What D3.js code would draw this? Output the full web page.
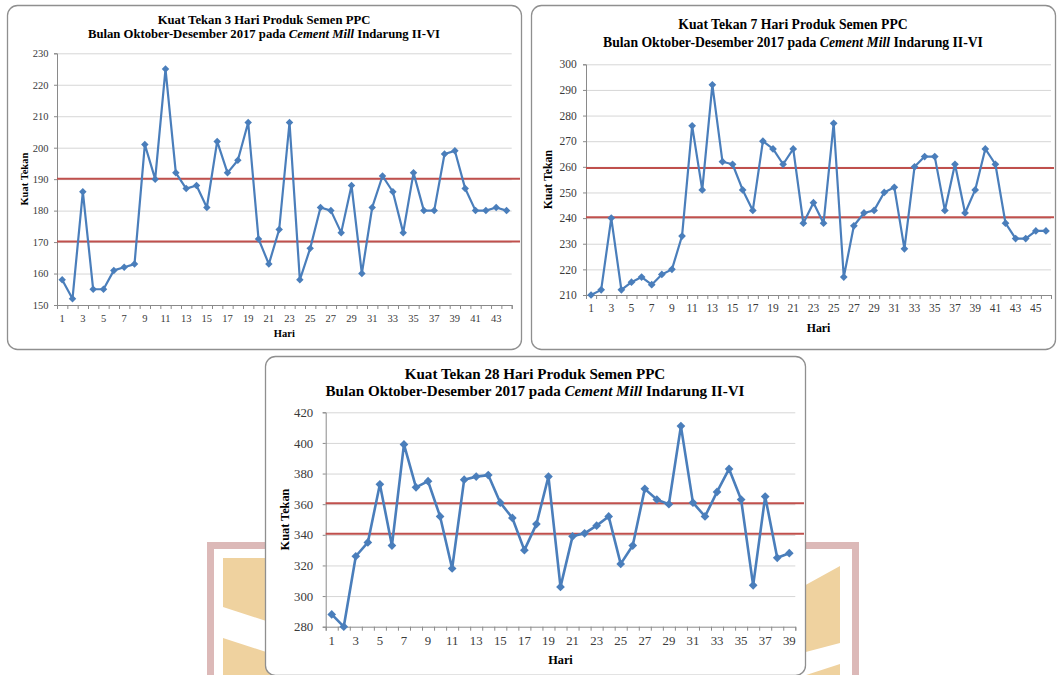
<!DOCTYPE html>
<html>
<head>
<meta charset="utf-8">
<script src="https://cdn.jsdelivr.net/npm/d3@7"></script>
<style>
  body { margin: 0; background: #fff; }
  svg { display: block; }
  text { font-family: "Liberation Serif", "Times New Roman", serif; }
</style>
</head>
<body>
<svg id="chart" width="1057" height="675"></svg>
<script>
// ---- Data: compressive strength (Kuat Tekan) per day, PPC cement, Cement Mill Indarung II-VI ----
const strength3 = [158, 152, 186, 155, 155, 161, 162, 163, 201, 190, 225, 192, 187, 188, 181, 202, 192, 196, 208, 171,
                   163, 174, 208, 158, 168, 181, 180, 173, 188, 160, 181, 191, 186, 173, 192, 180, 180, 198, 199, 187,
                   180, 180, 181, 180];
const strength7 = [210, 212, 240, 212, 215, 217, 214, 218, 220, 233, 276, 251, 292, 262, 261, 251, 243, 270, 267, 261,
                   267, 238, 246, 238, 277, 217, 237, 242, 243, 250, 252, 228, 260, 264, 264, 243, 261, 242, 251, 267,
                   261, 238, 232, 232, 235, 235];
const strength28 = [288, 280, 326, 335, 373, 333, 399, 371, 375, 352, 318, 376, 378, 379, 361, 351, 330, 347, 378, 306,
                    339, 341, 346, 352, 321, 333, 370, 363, 360, 411, 361, 352, 368, 383, 363, 307, 365, 325, 328];

// control limits (upper, lower)
const limits3 = [190.1, 170.2];
const limits7 = [259.5, 240.3];
const limits28 = [360.6, 340.7];

// y-axis tick labels
const yTicks3 = [150, 160, 170, 180, 190, 200, 210, 220, 230];
const yTicks7 = [210, 220, 230, 240, 250, 260, 270, 280, 290, 300];
const yTicks28 = [280, 300, 320, 340, 360, 380, 400, 420];

const titleLine1 = ["Kuat Tekan 3 Hari Produk Semen PPC", "Kuat Tekan 7 Hari Produk Semen PPC", "Kuat Tekan 28 Hari Produk Semen PPC"];
const titleLine2 = [["Bulan Oktober-Desember 2017 pada ", false], ["Cement Mill", true], [" Indarung II-VI", false]];
const xTitle = "Hari";
const yTitle = "Kuat Tekan";

const LINE = "#4a7ebb";
const LIMIT = "#c0504d";
const GRID = "#d6d6d6";
const AXIS = "#8a8a8a";
const TICKTXT = "#3a3a3a";

const svg = d3.select("#chart");

// ---- faint background emblem ----
const wm = svg.append("g");
const beige = "#efd29f";
wm.append("polygon").attr("points", "223,558 300,558 300,632 223,607").attr("fill", beige);
wm.append("polygon").attr("points", "223,638 300,663 300,680 223,680").attr("fill", beige);
wm.append("polygon").attr("points", "760,610 840,566 840,643 760,664").attr("fill", beige);
wm.append("polygon").attr("points", "760,690 840,664 840,690").attr("fill", beige);
wm.append("rect").attr("x", 210.5).attr("y", 545.5).attr("width", 645).attr("height", 200)
  .attr("fill", "none").attr("stroke", "#dcb9b8").attr("stroke-width", 7);

// ---- panel layouts ----
const panels = [
  { values: strength3, limits: limits3, ticks: yTicks3, title: titleLine1[0],
    box: [7, 5, 521, 349], plot: [57, 53.3, 511.7, 305],
    tFont: 12.7, t1: 24, t2: 37.5, tickFont: 10.5, yPad: 5.5, xPad: 9.5,
    axFont: 10.5, yTitleX: 24, xTitleY: 337, mark: 28, lw: 2.2 },
  { values: strength7, limits: limits7, ticks: yTicks7, title: titleLine1[1],
    box: [531, 5, 1055, 349], plot: [586, 64.3, 1051, 295],
    tFont: 13.7, t1: 29, t2: 46.5, tickFont: 11.5, yPad: 6.3, xPad: 8.5,
    axFont: 11.8, yTitleX: 548, xTitleY: 332, mark: 30, lw: 2.2 },
  { values: strength28, limits: limits28, ticks: yTicks28, title: titleLine1[2],
    box: [265, 356, 805, 675], plot: [325.7, 412.3, 795.3, 626.7],
    tFont: 15.1, t1: 378.5, t2: 395.5, tickFont: 12.8, yPad: 9.5, xPad: 9.4,
    axFont: 12.3, yTitleX: 285, xTitleY: 664, mark: 38, lw: 2.6 }
];

function drawPanel(p) {
  const g = svg.append("g");
  const [bx0, by0, bx1, by1] = p.box;
  const [px0, py0, px1, py1] = p.plot;
  const days = p.values.map((_, i) => i + 1);

  g.append("rect")
    .attr("x", bx0 + 0.5).attr("y", by0 + 0.5)
    .attr("width", bx1 - bx0).attr("height", by1 - by0)
    .attr("rx", 10).attr("ry", 10)
    .attr("fill", "#fff").attr("stroke", "#8f8f8f").attr("stroke-width", 1.3);

  const x = d3.scaleBand().domain(days).range([px0, px1]).padding(0);
  const y = d3.scaleLinear().domain([p.ticks[0], p.ticks[p.ticks.length - 1]]).range([py1, py0]);
  const edge = d3.scaleLinear().domain([0, days.length]).range([px0, px1]);

  // horizontal gridlines
  const grid = g.append("g").attr("transform", `translate(${px0},0)`)
    .call(d3.axisLeft(y).tickValues(p.ticks.slice(1)).tickSize(-(px1 - px0)).tickFormat(""));
  grid.select(".domain").remove();
  grid.selectAll("line").attr("stroke", GRID).attr("stroke-width", 1);

  // y axis
  const ya = g.append("g").attr("transform", `translate(${px0},0)`)
    .call(d3.axisLeft(y).tickValues(p.ticks).tickSize(3).tickPadding(p.yPad).tickFormat(d3.format("d")));
  ya.select(".domain").attr("stroke", AXIS);
  ya.selectAll("line").attr("stroke", AXIS);
  ya.selectAll("text").attr("fill", TICKTXT).style("font-size", p.tickFont + "px")
    .style("font-family", '"Liberation Serif", serif');

  // x axis: tick marks at category boundaries
  const xa = g.append("g").attr("transform", `translate(0,${py1})`)
    .call(d3.axisBottom(edge).tickValues(d3.range(0, days.length + 1)).tickSize(4).tickFormat(""));
  xa.select(".domain").attr("stroke", AXIS);
  xa.selectAll("line").attr("stroke", AXIS);

  // x axis labels: every other day, centred on its category
  const xl = g.append("g").attr("transform", `translate(0,${py1})`)
    .call(d3.axisBottom(x).tickValues(days.filter(d => d % 2 === 1)).tickSize(0).tickPadding(p.xPad));
  xl.select(".domain").remove();
  xl.selectAll("text").attr("fill", TICKTXT).style("font-size", p.tickFont + "px")
    .style("font-family", '"Liberation Serif", serif');

  // control limit lines
  g.selectAll(".limit").data(p.limits).join("line")
    .attr("x1", px0).attr("x2", bx1 - 1)
    .attr("y1", d => y(d)).attr("y2", d => y(d))
    .attr("stroke", LIMIT).attr("stroke-width", 2);

  // series line
  const cx = d => x(d) + x.bandwidth() / 2;
  g.append("path").datum(days)
    .attr("fill", "none").attr("stroke", LINE).attr("stroke-width", p.lw)
    .attr("stroke-linejoin", "round")
    .attr("d", d3.line().x(cx).y(d => y(p.values[d - 1])));

  // diamond markers
  const sym = d3.symbol(d3.symbolSquare, p.mark);
  g.selectAll(".mk").data(days).join("path")
    .attr("d", sym)
    .attr("transform", d => `translate(${cx(d)},${y(p.values[d - 1])}) rotate(45)`)
    .attr("fill", LINE);

  // title
  const cxBox = (bx0 + bx1) / 2;
  g.append("text").attr("x", cxBox).attr("y", p.t1).attr("text-anchor", "middle")
    .attr("font-weight", "bold").style("font-size", p.tFont + "px").text(p.title);
  const t2 = g.append("text").attr("x", cxBox).attr("y", p.t2).attr("text-anchor", "middle")
    .attr("font-weight", "bold").style("font-size", p.tFont + "px");
  titleLine2.forEach(([s, it]) => t2.append("tspan").attr("font-style", it ? "italic" : "normal").text(s));

  // axis titles
  g.append("text").attr("x", (px0 + px1) / 2).attr("y", p.xTitleY).attr("text-anchor", "middle")
    .attr("font-weight", "bold").style("font-size", p.axFont + "px").text(xTitle);
  g.append("text")
    .attr("transform", `translate(${p.yTitleX},${(py0 + py1) / 2}) rotate(-90)`)
    .attr("text-anchor", "middle").attr("dy", "0.35em")
    .attr("font-weight", "bold").style("font-size", p.axFont + "px").text(yTitle);
}

panels.forEach(drawPanel);
</script>
</body>
</html>
